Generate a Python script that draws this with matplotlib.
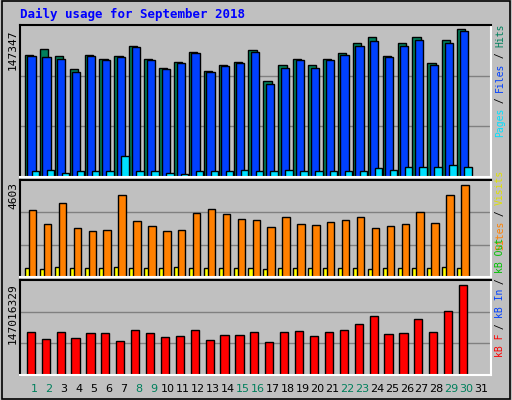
import numpy as np
import matplotlib
matplotlib.use("Agg")
from matplotlib import pyplot as plt

days = np.arange(1, 32)
hits = np.array([.83, .87, .82, .73, .83, .80, .82, .89, .80, .74, .78, .85, .72, .76, .78,
                 .86, .65, .76, .80, .76, .80, .84, .91, .95, .82, .91, .95, .77, .93, 1.0, 0]) * 147347
files = np.array([.82, .81, .80, .71, .82, .79, .81, .88, .79, .73, .77, .84, .71, .75, .77,
                  .85, .63, .74, .79, .74, .79, .83, .89, .92, .81, .89, .93, .76, .91, .99, 0]) * 147347
pages = np.array([.04, .05, .03, .04, .04, .04, .14, .04, .04, .03, .02, .04, .04, .04, .05,
                  .04, .04, .05, .04, .04, .04, .04, .04, .06, .05, .07, .07, .07, .08, .07, 0]) * 147347
visits = np.array([.73, .57, .80, .53, .50, .51, .89, .61, .55, .50, .51, .69, .74, .68, .63,
                   .62, .54, .65, .57, .56, .59, .62, .65, .53, .55, .57, .70, .58, .89, 1.0, 0]) * 4603
sites = np.array([.10, .09, .11, .10, .10, .10, .11, .10, .10, .10, .11, .10, .10, .10, .10,
                  .10, .09, .10, .10, .10, .10, .10, .10, .09, .10, .10, .10, .10, .11, .10, 0]) * 4603
kbytes = np.array([.47, .40, .47, .41, .46, .46, .38, .50, .46, .42, .43, .50, .39, .44, .44,
                   .48, .36, .47, .49, .43, .47, .50, .56, .65, .45, .46, .62, .48, .71, 1.0, 0]) * 147016329
weekend = [1, 2, 8, 9, 15, 16, 22, 23, 29, 30]

mono = "DejaVu Sans Mono"
W, H = 512, 400
fig = plt.figure(figsize=(W / 100, H / 100), dpi=100, facecolor="#c0c0c0")

def ax_px(x0, y0, x1, y1):
    return fig.add_axes([x0 / W, 1 - y1 / H, (x1 - x0) / W, (y1 - y0) / H])

def panel(ax, top):
    ax.set_facecolor("#c0c0c0")
    ax.set_xlim(0.05, 31.65)
    ax.set_ylim(0, top)
    for g in (top / 3, 2 * top / 3):
        ax.axhline(g, color="#808080", lw=1, zorder=0)
    ax.set_xticks([]); ax.set_yticks([])
    for s in ax.spines.values():
        s.set_color("white"); s.set_linewidth(1.5)
    ax.spines["top"].set_color("black"); ax.spines["left"].set_color("black")

# outer frame
fr = fig.add_axes([0, 0, 1, 1]); fr.set_axis_off()
fr.add_patch(plt.Rectangle((0.003, 0.003), 0.994, 0.994, fill=False, ec="black", lw=1.2,
                           transform=fr.transAxes))
fig.text(20 / W, 1 - 14 / H, "Daily usage for September 2018", color="#0000ff", family=mono,
         fontsize=9, fontweight="bold", va="center")

a1 = ax_px(20, 25, 491, 177)
panel(a1, 147347 * 1.03)
kw = dict(edgecolor="black", linewidth=1, align="edge")
a1.bar(days - 0.62, hits, 0.55, color="#00805c", **kw)
a1.bar(days - 0.45, files, 0.55, color="#0040ff", **kw)
a1.bar(days - 0.15, pages, 0.5, color="#00e0ff", **kw)

a2 = ax_px(20, 180, 491, 277)
panel(a2, 4603 * 1.05)
a2.bar(days - 0.62, sites, 0.5, color="#ffff00", **kw)
a2.bar(days - 0.35, visits, 0.5, color="#ff8000", **kw)

a3 = ax_px(20, 280, 491, 375)
panel(a3, 147016329 * 1.05)
a3.bar(days - 0.5, kbytes, 0.55, color="#ff0000", **kw)

for d in days:
    x = 20 + (d - 0.05) / 31.6 * 471
    fig.text(x / W, 1 - 389 / H, str(d), color="#00805c" if d in weekend else "black",
             fontsize=8, ha="center", va="center")

for y, lab in ((30, "147347"), (182, "4603"), (283, "147016329")):
    fig.text(13 / W, 1 - y / H, lab, rotation=90, family=mono, fontsize=8, ha="center", va="top")

def vlabel(parts, y_bottom, step=5.6):
    y = y_bottom
    for txt, col in parts:
        fig.text(500 / W, 1 - y / H, txt, rotation=90, family=mono, fontsize=7, color=col,
                 ha="center", va="bottom")
        y -= len(txt) * step

vlabel([("Pages", "#00e0ff"), (" / ", "#000000"), ("Files", "#0040ff"), (" / ", "#000000"),
        ("Hits", "#00805c")], 137)
vlabel([("Sites", "#ff8000"), (" / ", "#000000"), ("Visits", "#e0e000")], 250)
vlabel([("kB F", "#ff0000"), (" / ", "#000000"), ("kB In", "#0040ff"), (" / ", "#000000"),
        ("kB Out", "#00c000")], 357)

fig.savefig("out.png", dpi=100, facecolor=fig.get_facecolor())
